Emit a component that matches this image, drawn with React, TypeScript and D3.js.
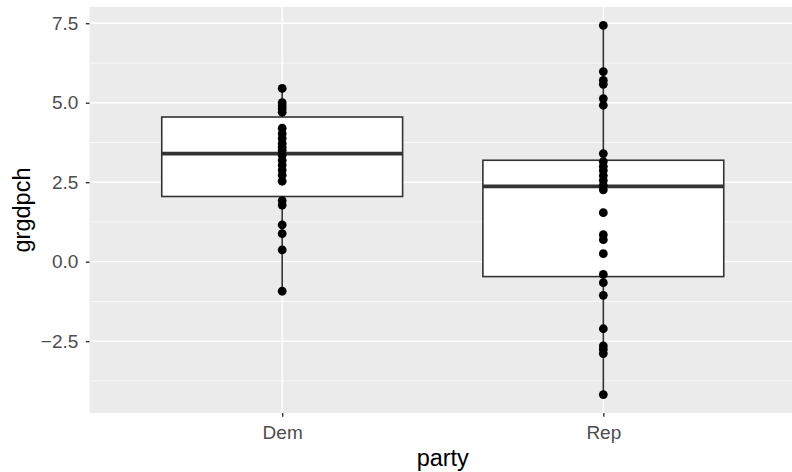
import React, { useRef, useEffect } from 'react';
import * as d3 from 'd3';

const parties = ['Dem', 'Rep'];
const demValues = [5.45, 5.0, 4.9, 4.8, 4.7, 4.2, 4.03, 3.88, 3.72, 3.6, 3.5, 3.35, 3.19, 3.04, 2.88, 2.72, 2.53, 1.92, 1.78, 1.16, 0.88, 0.37, -0.93];
const repValues = [7.43, 5.98, 5.7, 5.58, 5.13, 4.92, 3.4, 3.15, 3.0, 2.87, 2.71, 2.56, 2.4, 2.26, 1.54, 0.85, 0.69, 0.25, -0.4, -0.66, -1.06, -2.11, -2.65, -2.76, -2.89, -4.18];

// box summaries as drawn: [lower whisker, q1, median, q3, upper whisker]
const demBox = [-0.93, 2.05, 3.4, 4.55, 5.45];
const repBox = [-4.18, -0.47, 2.37, 3.19, 7.43];

const yTicks = [-2.5, 0, 2.5, 5, 7.5];
const yMinorTicks = [-3.75, -1.25, 1.25, 3.75, 6.25];

const FONT = '"Liberation Sans", Arial, Helvetica, sans-serif';

export default function App() {
  const svgRef = useRef<SVGSVGElement>(null);

  useEffect(() => {
    if (!svgRef.current) return;
    const width = 792;
    const height = 472;
    const margin = { top: 7, right: -4, bottom: 59, left: 89.5 };
    const innerWidth = width - margin.left - margin.right;
    const innerHeight = height - margin.top - margin.bottom;

    const svg = d3.select(svgRef.current);
    svg.selectAll('*').remove();

    const all = demValues.concat(repValues);
    const [lo, hi] = d3.extent(all) as [number, number];
    const pad = (hi - lo) * 0.05;

    const yScale = d3.scaleLinear().domain([lo - pad, hi + pad]).range([innerHeight, 0]);
    // discrete axis with 0.6 expansion either side
    const xScale = d3.scaleLinear().domain([0.4, parties.length + 0.6]).range([0, innerWidth]);
    const xPos = (name: string) => xScale(parties.indexOf(name) + 1);

    const g = svg.append('g').attr('transform', `translate(${margin.left},${margin.top})`);

    // panel background
    g.append('rect')
      .attr('width', innerWidth)
      .attr('height', innerHeight)
      .attr('fill', '#EBEBEB');

    // minor grid
    g.selectAll('.minor')
      .data(yMinorTicks)
      .enter()
      .append('line')
      .attr('x1', 0)
      .attr('x2', innerWidth)
      .attr('y1', d => yScale(d))
      .attr('y2', d => yScale(d))
      .attr('stroke', '#FFFFFF')
      .attr('stroke-width', 0.7);

    // major grid
    g.selectAll('.major')
      .data(yTicks)
      .enter()
      .append('line')
      .attr('x1', 0)
      .attr('x2', innerWidth)
      .attr('y1', d => yScale(d))
      .attr('y2', d => yScale(d))
      .attr('stroke', '#FFFFFF')
      .attr('stroke-width', 1.4);

    g.selectAll('.vgrid')
      .data(parties)
      .enter()
      .append('line')
      .attr('x1', d => xPos(d))
      .attr('x2', d => xPos(d))
      .attr('y1', 0)
      .attr('y2', innerHeight)
      .attr('stroke', '#FFFFFF')
      .attr('stroke-width', 1.4);

    const boxes = [
      { name: 'Dem', stats: demBox, values: demValues },
      { name: 'Rep', stats: repBox, values: repValues },
    ];
    const boxHalf = (xScale(1.75) - xScale(1)) / 2;

    boxes.forEach(b => {
      const cx = xPos(b.name);
      const [wLo, q1, med, q3, wHi] = b.stats;
      // whiskers
      g.append('line')
        .attr('x1', cx).attr('x2', cx)
        .attr('y1', yScale(q3)).attr('y2', yScale(wHi))
        .attr('stroke', '#333333').attr('stroke-width', 1.6);
      g.append('line')
        .attr('x1', cx).attr('x2', cx)
        .attr('y1', yScale(q1)).attr('y2', yScale(wLo))
        .attr('stroke', '#333333').attr('stroke-width', 1.6);
      // box
      g.append('rect')
        .attr('x', cx - boxHalf)
        .attr('y', yScale(q3))
        .attr('width', boxHalf * 2)
        .attr('height', yScale(q1) - yScale(q3))
        .attr('fill', '#FFFFFF')
        .attr('stroke', '#333333')
        .attr('stroke-width', 1.6);
      // median
      g.append('line')
        .attr('x1', cx - boxHalf).attr('x2', cx + boxHalf)
        .attr('y1', yScale(med)).attr('y2', yScale(med))
        .attr('stroke', '#333333').attr('stroke-width', 3.8);
      // points
      g.selectAll(`.pt-${b.name}`)
        .data(b.values)
        .enter()
        .append('circle')
        .attr('cx', cx)
        .attr('cy', d => yScale(d))
        .attr('r', 4.4)
        .attr('fill', '#000000');
    });

    // y axis
    const yAxis = g.append('g')
      .call(d3.axisLeft(yScale)
        .tickValues(yTicks)
        .tickSize(3.7)
        .tickPadding(7.5)
        .tickFormat(d => {
          const v = Number(d);
          return v < 0 ? '\u2212' + Math.abs(v).toFixed(1) : v.toFixed(1);
        }));
    yAxis.select('.domain').remove();
    yAxis.selectAll('line').attr('stroke', '#333333').attr('stroke-width', 1.4);
    yAxis.selectAll('text')
      .attr('fill', '#4D4D4D')
      .style('font-size', '19px')
      .style('font-family', FONT);

    // x axis
    const xAxis = g.append('g')
      .attr('transform', `translate(0,${innerHeight})`)
      .call(d3.axisBottom(xScale)
        .tickValues(parties.map((_, i) => i + 1))
        .tickSize(3.7)
        .tickPadding(8.8)
        .tickFormat(d => parties[Number(d) - 1]));
    xAxis.select('.domain').remove();
    xAxis.selectAll('line').attr('stroke', '#333333').attr('stroke-width', 1.4);
    xAxis.selectAll('text')
      .attr('fill', '#4D4D4D')
      .style('font-size', '19px')
      .style('font-family', FONT);

    // axis titles
    svg.append('text')
      .attr('x', margin.left + innerWidth / 2)
      .attr('y', 466)
      .attr('text-anchor', 'middle')
      .style('font-size', '23.5px')
      .style('font-family', FONT)
      .attr('fill', '#000000')
      .text('party');

    svg.append('text')
      .attr('transform', `translate(30,${margin.top + innerHeight / 2}) rotate(-90)`)
      .attr('text-anchor', 'middle')
      .style('font-size', '23.5px')
      .style('font-family', FONT)
      .attr('fill', '#000000')
      .text('grgdpch');
  }, []);

  return (
    <div style={{ position: 'absolute', left: 0, top: 0, width: 792, height: 472, background: '#FFFFFF', overflow: 'hidden' }}>
      <svg ref={svgRef} width={792} height={472} style={{ display: 'block' }} />
    </div>
  );
}
